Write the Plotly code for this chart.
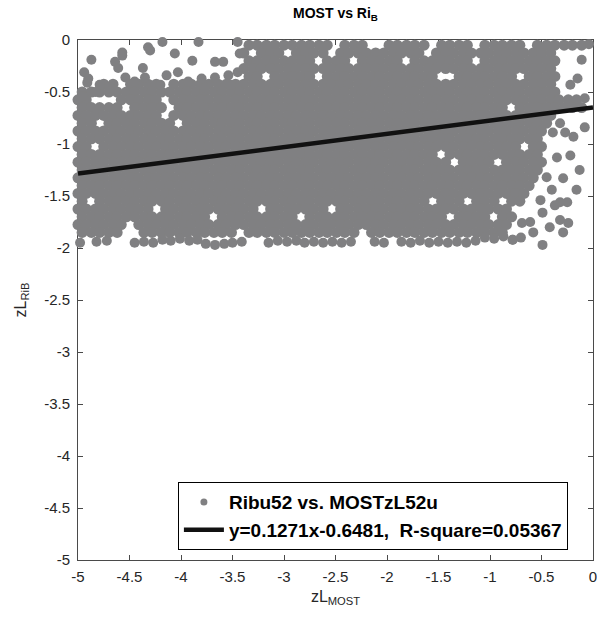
import plotly.graph_objects as go

# ---------------- data ----------------
# dense core of the cloud: x positions used on alternating rows
GRID_A = [-4.96, -4.87, -4.79, -4.70, -4.62, -4.53, -4.45, -4.36, -4.28, -4.19, -4.11, -4.02,
          -3.94, -3.85, -3.77, -3.68, -3.60, -3.51, -3.43, -3.34, -3.26, -3.17, -3.09, -3.00,
          -2.92, -2.83, -2.75, -2.66, -2.58, -2.49, -2.41, -2.32, -2.24, -2.15, -2.07, -1.98,
          -1.90, -1.81, -1.73, -1.64, -1.56, -1.47, -1.39, -1.30, -1.22, -1.13, -1.05, -0.96,
          -0.88, -0.79, -0.71, -0.62, -0.54, -0.45, -0.37, -0.28, -0.20, -0.11, -0.03]
GRID_B = [-5.00, -4.92, -4.83, -4.75, -4.66, -4.58, -4.49, -4.41, -4.32, -4.24, -4.15, -4.07,
          -3.98, -3.90, -3.81, -3.73, -3.64, -3.56, -3.47, -3.39, -3.30, -3.22, -3.13, -3.05,
          -2.96, -2.88, -2.79, -2.71, -2.62, -2.54, -2.45, -2.37, -2.28, -2.20, -2.11, -2.03,
          -1.94, -1.86, -1.77, -1.69, -1.60, -1.52, -1.43, -1.35, -1.26, -1.18, -1.09, -1.01,
          -0.92, -0.84, -0.75, -0.67, -0.58, -0.50, -0.41, -0.33, -0.24, -0.16, -0.07]
ROW_Y = [-0.05, -0.125, -0.20, -0.275, -0.35, -0.425, -0.50, -0.575, -0.65, -0.725, -0.80,
         -0.875, -0.95, -1.025, -1.10, -1.175, -1.25, -1.325, -1.40, -1.475, -1.55, -1.625,
         -1.70, -1.775, -1.85]
ROW_LO = [-3.40, -3.40, -3.40, -3.40, -3.40, -4.85, -4.96, -5.00, -5.00, -5.00, -5.00,
          -5.00, -5.00, -5.00, -5.00, -5.00, -5.00, -5.00, -5.00, -5.00, -5.00, -5.00,
          -5.00, -5.00, -5.00]
ROW_HI = [-0.05, -0.36, -0.36, -0.36, -0.33, -0.36, -0.30, -0.08, -0.08, -0.35, -0.45,
          -0.50, -0.50, -0.50, -0.48, -0.50, -0.52, -0.55, -0.55, -0.62, -0.65, -0.70,
          -0.75, -0.80, -0.85]
# white specks / notches inside the cloud
GAP_X = [-4.79, -4.56, -4.15, -4.72, -4.55, -4.18, -4.18, -4.79, -4.82, -4.69,
         -3.98, -4.14, -4.82, -4.85, -4.20, -3.65, -3.23, -3.43, -1.51, -1.36,
         -0.93, -0.68, -1.55, -1.22, -0.90, -0.74, -2.52, -2.82, -1.36, -0.93,
         -1.50, -1.16, -0.71, -0.78, -3.28, -2.92, -2.67, -2.65, -3.16, -2.50,
         -2.29, -2.12, -1.85, -1.56, -1.43, -2.48, -1.58, -1.10, -0.61, -2.14,
         -4.55, -4.47, -4.51, -2.20]
GAP_Y = [-0.425, -0.425, -0.425, -0.56, -0.62, -0.60, -0.70, -0.84, -0.58, -0.55,
         -0.80, -0.67, -1.06, -1.56, -1.65, -1.73, -1.62, -1.83, -1.11, -1.20,
         -1.17, -1.06, -1.57, -1.56, -1.57, -1.60, -1.62, -1.73, -1.73, -1.73,
         -0.35, -0.22, -0.31, -0.62, -0.14, -0.13, -0.31, -0.21, -0.36, -0.10,
         -0.19, -0.07, -0.22, -0.12, -0.36, -0.05, -0.05, -0.05, -0.05, -0.05,
         -1.85, -1.85, -1.775, -1.85]
# sparse points above the cloud on the left
TOP_X = [-4.94, -4.90, -4.91, -4.87, -4.64, -4.57, -4.57, -4.61, -4.54, -4.37,
         -4.35, -4.32, -4.30, -4.18, -4.14, -4.06, -4.03, -3.93, -3.89, -3.83,
         -3.80, -3.67, -3.67, -3.59, -3.54, -3.45, -3.43, -3.45, -4.79, -4.69,
         -4.45, -4.20, -3.77, -3.52, -4.83, -4.96]
TOP_Y = [-0.31, -0.37, -0.41, -0.19, -0.21, -0.12, -0.15, -0.27, -0.36, -0.27,
         -0.36, -0.07, -0.10, -0.02, -0.34, -0.13, -0.31, -0.40, -0.20, -0.02,
         -0.37, -0.21, -0.36, -0.21, -0.34, -0.02, -0.13, -0.31, -0.43, -0.46,
         -0.40, -0.43, -0.46, -0.43, -0.50, -0.54]
# sparse points on the right edge
RIGHT_X = [-0.04, -0.11, -0.15, -0.22, -0.08, -0.08, -0.19, -0.32, -0.27, -0.39,
           -0.35, -0.22, -0.13, -0.29, -0.45, -0.40, -0.16, -0.25, -0.32, -0.51,
           -0.37, -0.49, -0.32, -0.24, -0.42, -0.61, -0.69, -0.29, -0.58, -0.78, -0.49]
RIGHT_Y = [-0.04, -0.19, -0.37, -0.43, -0.56, -0.84, -0.93, -0.80, -0.89, -0.89,
           -1.13, -1.11, -1.25, -1.33, -1.32, -1.44, -1.44, -1.56, -1.56, -1.54,
           -1.59, -1.66, -1.73, -1.76, -1.80, -1.75, -1.76, -1.85, -1.85, -1.92, -1.97]
# scalloped lower edge
BOTTOM_X = [-4.98, -4.82, -4.72, -4.45, -4.36, -4.27, -4.18, -4.10, -4.01, -3.92,
            -3.84, -3.76, -3.67, -3.58, -3.50, -3.41, -3.15, -3.06, -2.97, -2.88,
            -2.80, -2.71, -2.62, -2.53, -2.44, -2.35, -2.12, -2.03, -1.86, -1.77,
            -1.68, -1.59, -1.50, -1.41, -1.32, -1.23, -1.14, -1.05, -0.96, -0.87,
            -0.78, -0.70]
BOTTOM_Y = [-1.95, -1.94, -1.93, -1.95, -1.94, -1.95, -1.92, -1.93, -1.91, -1.93,
            -1.92, -1.96, -1.97, -1.96, -1.95, -1.94, -1.95, -1.93, -1.94, -1.93,
            -1.95, -1.94, -1.95, -1.94, -1.95, -1.94, -1.94, -1.95, -1.94, -1.95,
            -1.93, -1.95, -1.94, -1.95, -1.94, -1.95, -1.93, -1.90, -1.91, -1.89,
            -1.92, -1.90]

FIT_SLOPE = 0.1271
FIT_INTERCEPT = -0.6481
FIT_R2 = 0.05367
FIT_X = [-5.0, 0.0]

SCATTER_NAME = "Ribu52 vs. MOSTzL52u"
TITLE = "MOST vs Ri<sub>B</sub>"
X_TITLE = "zL<sub>MOST</sub>"
Y_TITLE = "zL<sub>RiB</sub>"
TICK_VALS = [-5, -4.5, -4, -3.5, -3, -2.5, -2, -1.5, -1, -0.5, 0]
TICK_TEXT = ["-5", "-4.5", "-4", "-3.5", "-3", "-2.5", "-2", "-1.5", "-1", "-0.5", "0"]

# ---------------- build point lists ----------------
core = []
for i, (yy, lo, hi) in enumerate(zip(ROW_Y, ROW_LO, ROW_HI)):
    grid = GRID_A if i % 2 == 0 else GRID_B
    for xx in grid:
        if lo - 1e-9 <= xx <= hi + 1e-9:
            core.append((xx, yy))
for gx, gy in zip(GAP_X, GAP_Y):
    if not core:
        break
    j = min(range(len(core)), key=lambda k: (core[k][0] - gx) ** 2 + (core[k][1] - gy) ** 2)
    d = ((core[j][0] - gx) ** 2 + (core[j][1] - gy) ** 2) ** 0.5
    if d < 0.08:
        core.pop(j)

core_x = [p[0] for p in core]
core_y = [p[1] for p in core]
edge_x = TOP_X + RIGHT_X + BOTTOM_X
edge_y = TOP_Y + RIGHT_Y + BOTTOM_Y

fit_y = [FIT_SLOPE * x + FIT_INTERCEPT for x in FIT_X]
fit_name = f"y={FIT_SLOPE}x{FIT_INTERCEPT},\u00a0 R-square={FIT_R2}"

GRAY = "rgb(128,128,130)"
AX = "#4a4a4a"
FONT = "Liberation Sans, Arial, Helvetica, sans-serif"

fig = go.Figure()
fig.add_trace(go.Scatter(x=core_x, y=core_y, mode="markers", showlegend=False,
                         marker=dict(size=11, color=GRAY, line=dict(width=0)),
                         cliponaxis=False, hoverinfo="skip"))
fig.add_trace(go.Scatter(x=edge_x, y=edge_y, mode="markers", showlegend=False,
                         marker=dict(size=10, color=GRAY, line=dict(width=0)),
                         cliponaxis=False, hoverinfo="skip"))
# legend entry for the scatter (smaller dot like the reference legend)
fig.add_trace(go.Scatter(x=[None], y=[None], mode="markers", name=SCATTER_NAME,
                         marker=dict(size=7, color=GRAY)))
fig.add_trace(go.Scatter(x=FIT_X, y=fit_y, mode="lines", name=fit_name,
                         line=dict(color="#111111", width=4.5), cliponaxis=False))

axis_common = dict(range=[-5, 0], tickvals=TICK_VALS, ticktext=TICK_TEXT,
                   ticks="inside", ticklen=5, tickcolor=AX, tickwidth=1,
                   showline=True, linecolor=AX, linewidth=1, mirror="ticks",
                   showgrid=False, zeroline=False, layer="below traces",
                   automargin=False, ticklabeloverflow="allow",
                   tickfont=dict(family=FONT, size=15, color="#262626"))

fig.update_layout(
    width=597, height=619, autosize=False,
    margin=dict(l=78, r=4, t=40, b=59),
    plot_bgcolor="white", paper_bgcolor="white",
    font=dict(family=FONT, color="#262626"),
    title=dict(text=TITLE, x=0.5, xref="paper", xanchor="center",
               y=1 - 13 / 619, yref="container", yanchor="middle",
               font=dict(family=FONT, size=14, color="black", weight="bold")),
    xaxis=dict(**axis_common, ticklabelstandoff=3,
               title=dict(text=X_TITLE, standoff=6,
                          font=dict(family=FONT, size=16, color="#262626"))),
    yaxis=dict(**axis_common, ticklabelstandoff=4,
               title=dict(text=Y_TITLE, standoff=13,
                          font=dict(family=FONT, size=16, color="#262626"))),
    legend=dict(x=0.194, y=0.019, xanchor="left", yanchor="bottom",
                bgcolor="white", bordercolor="black", borderwidth=1,
                font=dict(family=FONT, size=19, color="black", weight="bold"),
                itemwidth=40, tracegroupgap=0),
)

fig.write_html("out.html")
